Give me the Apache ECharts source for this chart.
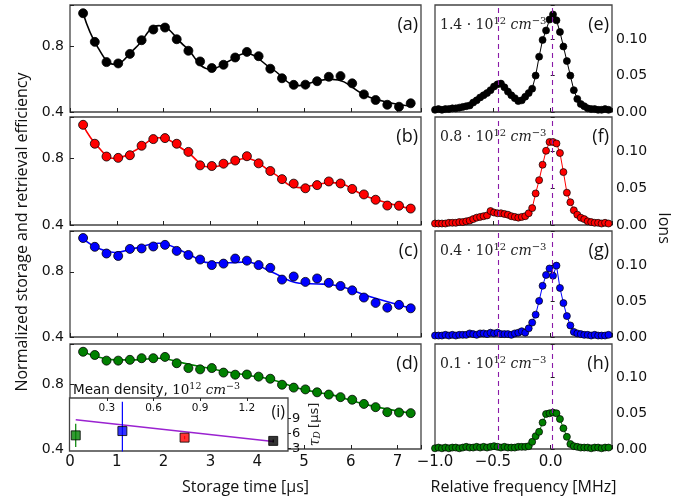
<!DOCTYPE html>
<html>
<head>
<meta charset="utf-8">
<script src="https://cdn.jsdelivr.net/npm/echarts@6/dist/echarts.min.js"></script>
<style>
  html, body { margin: 0; padding: 0; background: #fff; }
  #chart { width: 685px; height: 496px; }
</style>
</head>
<body>
<div id="chart"></div>
<script>
// ---- storage / retrieval efficiency (left panels a-d) ----
const storageTime = [0.28, 0.53, 0.78, 1.03, 1.28, 1.53, 1.78, 2.03, 2.28, 2.53, 2.78, 3.03, 3.28, 3.53, 3.78,
    4.03, 4.28, 4.53, 4.78, 5.03, 5.28, 5.53, 5.78, 6.03, 6.28, 6.53, 6.78, 7.03, 7.28];
const effA = [1.0, 0.826, 0.703, 0.695, 0.753, 0.836, 0.901, 0.913, 0.842, 0.772, 0.707, 0.667, 0.687, 0.731, 0.765,
    0.739, 0.663, 0.605, 0.565, 0.566, 0.587, 0.614, 0.618, 0.574, 0.507, 0.473, 0.444, 0.432, 0.453];
const effB = [1.003, 0.889, 0.812, 0.804, 0.820, 0.877, 0.917, 0.923, 0.889, 0.840, 0.759, 0.755, 0.769, 0.788, 0.814,
    0.771, 0.725, 0.676, 0.649, 0.621, 0.640, 0.662, 0.650, 0.617, 0.584, 0.552, 0.517, 0.516, 0.499];
const effC = [1.007, 0.953, 0.912, 0.897, 0.940, 0.943, 0.955, 0.965, 0.928, 0.903, 0.875, 0.841, 0.850, 0.881, 0.868,
    0.841, 0.824, 0.752, 0.771, 0.738, 0.759, 0.732, 0.713, 0.686, 0.642, 0.609, 0.580, 0.597, 0.576];
const effD = [1.002, 0.982, 0.947, 0.947, 0.952, 0.962, 0.962, 0.970, 0.931, 0.901, 0.893, 0.901, 0.873, 0.860, 0.861,
    0.848, 0.835, 0.798, 0.780, 0.769, 0.751, 0.737, 0.721, 0.705, 0.679, 0.659, 0.628, 0.626, 0.622];

// fitted curves
const fitTime = [0.28, 0.6, 0.95, 1.4, 1.9, 2.45, 3.0, 3.4, 3.75, 4.3, 4.9, 5.3, 5.6, 6.4, 7.28];
const fitA = [1.0, 0.79, 0.69, 0.79, 0.925, 0.80, 0.66, 0.71, 0.755, 0.665, 0.56, 0.59, 0.598, 0.49, 0.435];
const fitB = [1.0, 0.87, 0.80, 0.85, 0.925, 0.85, 0.748, 0.77, 0.80, 0.72, 0.625, 0.645, 0.655, 0.565, 0.497];
const fitC = [1.0, 0.945, 0.918, 0.945, 0.975, 0.92, 0.855, 0.855, 0.86, 0.80, 0.73, 0.725, 0.72, 0.648, 0.576];
const fitD = [1.0, 0.97, 0.952, 0.952, 0.962, 0.93, 0.898, 0.875, 0.858, 0.83, 0.775, 0.75, 0.735, 0.67, 0.622];

// ---- ion spectra (right panels e-h) ----
const freq = [-1.00, -0.97, -0.94, -0.91, -0.88, -0.85, -0.82, -0.79, -0.76, -0.73, -0.70, -0.67, -0.64, -0.61, -0.58,
    -0.55, -0.52, -0.49, -0.46, -0.43, -0.40, -0.37, -0.34, -0.31, -0.28, -0.25, -0.22, -0.19, -0.16, -0.13, -0.10,
    -0.07, -0.04, -0.01, 0.02, 0.05, 0.08, 0.11, 0.14, 0.17, 0.20, 0.23, 0.26, 0.29, 0.32, 0.35, 0.38, 0.41, 0.44,
    0.47, 0.50];
const ionsE = [0.003, 0.004, 0.003, 0.004, 0.004, 0.005, 0.005, 0.006, 0.007, 0.008, 0.009, 0.013, 0.016, 0.020, 0.023,
    0.026, 0.030, 0.035, 0.038, 0.039, 0.034, 0.028, 0.023, 0.019, 0.015, 0.016, 0.021, 0.026, 0.032, 0.050, 0.076,
    0.099, 0.112, 0.127, 0.134, 0.126, 0.110, 0.090, 0.070, 0.050, 0.030, 0.018, 0.011, 0.008, 0.005, 0.004, 0.004,
    0.003, 0.003, 0.004, 0.003];
const ionsF = [0.002, 0.002, 0.002, 0.002, 0.003, 0.003, 0.003, 0.004, 0.004, 0.005, 0.006, 0.008, 0.010, 0.011, 0.012,
    0.013, 0.019, 0.017, 0.016, 0.016, 0.015, 0.014, 0.012, 0.011, 0.010, 0.011, 0.012, 0.016, 0.023, 0.043, 0.061,
    0.082, 0.101, 0.113, 0.113, 0.111, 0.098, 0.072, 0.044, 0.031, 0.020, 0.014, 0.010, 0.008, 0.005, 0.004, 0.003,
    0.003, 0.002, 0.003, 0.002];
const ionsG = [0.002, 0.002, 0.002, 0.003, 0.002, 0.003, 0.002, 0.003, 0.003, 0.003, 0.005, 0.004, 0.003, 0.005, 0.005,
    0.004, 0.006, 0.005, 0.006, 0.004, 0.004, 0.004, 0.003, 0.005, 0.006, 0.008, 0.006, 0.012, 0.020, 0.031, 0.050,
    0.071, 0.086, 0.095, 0.085, 0.099, 0.068, 0.047, 0.029, 0.016, 0.007, 0.005, 0.004, 0.003, 0.003, 0.002, 0.003,
    0.002, 0.002, 0.002, 0.003];
const ionsH = [0.001, 0.002, 0.001, 0.002, 0.001, 0.002, 0.002, 0.001, 0.002, 0.003, 0.002, 0.002, 0.003, 0.002, 0.003,
    0.002, 0.003, 0.004, 0.003, 0.002, 0.003, 0.002, 0.002, 0.002, 0.003, 0.003, 0.003, 0.004, 0.010, 0.018, 0.024,
    0.037, 0.049, 0.050, 0.051, 0.050, 0.042, 0.029, 0.017, 0.007, 0.004, 0.003, 0.002, 0.002, 0.002, 0.001, 0.002,
    0.002, 0.001, 0.002, 0.002];
const peakLines = [-0.45, 0.015];   // dashed markers, MHz

// ---- inset (i): decay time vs mean density ----
const density = [0.1, 0.4, 0.8, 1.37];
const tauD = [5.6, 6.45, 5.15, 4.5];
const tauErr = [2.3, 5.8, 0.3, 0.3];
const fitDensity = [0.1, 1.37];
const fitTau = [8.7, 4.4];
const densityTicks = [0.3, 0.6, 0.9, 1.2];
const tauTicks = [3, 6, 9];

// ---- labels ----
const leftLabels = ['(a)', '(b)', '(c)', '(d)'];
const rightLabels = ['(e)', '(f)', '(g)', '(h)'];
const densityLabels = ['1.4', '0.8', '0.4', '0.1'];
const colors = ['#000000', '#ff0000', '#0000ff', '#008000'];

// layout
const panelTop = [5, 117, 231, 344];
const panelHeight = [107, 108, 106, 107];
const LEFT_X = 70, LEFT_W = 351;
const RIGHT_X = 435, RIGHT_W = 177;
const TICK_FONT = 'DejaVu Sans';
const TEXT_FONT = 'Open Sans';
const FRAME = '#444';

const effData = [effA, effB, effC, effD];
const fitData = [fitA, fitB, fitC, fitD];
const ionData = [ionsE, ionsF, ionsG, ionsH];

const grids = [], xAxes = [], yAxes = [], series = [], graphics = [];

function pairs(xs, ys) {
    return xs.map((x, k) => [x, ys[k]]);
}

function tickStyle(inside, length) {
    return { show: true, inside: inside, length: length, lineStyle: { color: '#222', width: 1 } };
}

function labelStyle(size) {
    return { color: '#111', fontSize: size, fontFamily: TICK_FONT };
}

// left column
for (let i = 0; i < 4; i++) {
    grids.push({
        left: LEFT_X, top: panelTop[i], width: LEFT_W, height: panelHeight[i],
        show: true, borderColor: FRAME, borderWidth: 1.3, backgroundColor: 'transparent'
    });
    xAxes.push({
        type: 'value', gridIndex: i, min: 0, max: 7.5, interval: 1,
        axisLine: { show: false }, splitLine: { show: false },
        axisTick: tickStyle(true, 4),
        axisLabel: Object.assign(labelStyle(15), {
            show: i === 3, margin: 6,
            formatter: v => Number.isInteger(v) ? String(v) : ''
        }),
        name: i === 3 ? 'Storage time [µs]' : '',
        nameLocation: 'middle', nameGap: 30,
        nameTextStyle: { fontSize: 16, fontFamily: TEXT_FONT, color: '#111' }
    });
    yAxes.push({
        type: 'value', gridIndex: i, min: 0.4, max: 1.05, interval: 0.4,
        axisLine: { show: false }, splitLine: { show: false },
        axisTick: tickStyle(true, 4),
        axisLabel: Object.assign(labelStyle(14), {
            margin: 6,
            formatter: v => v < 0.81 ? v.toFixed(1) : ''
        })
    });
    series.push({
        type: 'line', xAxisIndex: i, yAxisIndex: i, data: pairs(fitTime, fitData[i]),
        smooth: 0.45, showSymbol: false, lineStyle: { color: colors[i], width: 1.6 }, z: 2
    });
    series.push({
        type: 'scatter', xAxisIndex: i, yAxisIndex: i, data: pairs(storageTime, effData[i]),
        symbolSize: 9, itemStyle: { color: colors[i], borderColor: '#000', borderWidth: 0.8, opacity: 1 }, z: 3
    });
    graphics.push({
        type: 'text', x: LEFT_X + LEFT_W - 3, y: panelTop[i] + 20, z: 50,
        style: { text: leftLabels[i], fontSize: 18, fontFamily: TEXT_FONT, fill: '#111',
                 textAlign: 'right', textVerticalAlign: 'middle' }
    });
}

// right column
for (let i = 0; i < 4; i++) {
    const g = 4 + i;
    grids.push({
        left: RIGHT_X, top: panelTop[i], width: RIGHT_W, height: panelHeight[i],
        show: true, borderColor: FRAME, borderWidth: 1.3, backgroundColor: 'transparent'
    });
    xAxes.push({
        type: 'value', gridIndex: g, min: -1.0, max: 0.53, interval: 0.5,
        axisLine: { show: false }, splitLine: { show: false },
        axisTick: tickStyle(true, 4),
        axisLabel: Object.assign(labelStyle(15), {
            show: i === 3, margin: 6,
            formatter: v => v < 0.001 ? (v < 0 ? '\u2212' : '') + Math.abs(v).toFixed(1) : ''
        }),
        name: i === 3 ? 'Relative frequency [MHz]' : '',
        nameLocation: 'middle', nameGap: 30,
        nameTextStyle: { fontSize: 16, fontFamily: TEXT_FONT, color: '#111' }
    });
    yAxes.push({
        type: 'value', gridIndex: g, position: 'right', min: 0, max: 0.147, interval: 0.05,
        axisLine: { show: false }, splitLine: { show: false },
        axisTick: tickStyle(false, 4),
        axisLabel: Object.assign(labelStyle(14), {
            margin: 4,
            formatter: v => v < 0.101 ? v.toFixed(2) : ''
        })
    });
    series.push({
        type: 'line', xAxisIndex: g, yAxisIndex: g, data: pairs(freq, ionData[i]),
        symbol: 'circle', symbolSize: 7, showSymbol: true, showAllSymbol: true,
        lineStyle: { color: colors[i], width: 1 },
        itemStyle: { color: colors[i], borderColor: '#000', borderWidth: 0.7 },
        markLine: {
            silent: true, symbol: ['none', 'none'], label: { show: false }, animation: false,
            lineStyle: { type: [5, 4], color: '#8a1aa8', width: 1.1 },
            data: peakLines.map(v => ({ xAxis: v }))
        },
        z: 3
    });
    graphics.push({
        type: 'text', x: RIGHT_X + RIGHT_W - 3, y: panelTop[i] + 20, z: 50,
        style: { text: rightLabels[i], fontSize: 18, fontFamily: TEXT_FONT, fill: '#111',
                 textAlign: 'right', textVerticalAlign: 'middle' }
    });
    graphics.push({
        type: 'text', x: RIGHT_X + 5, y: panelTop[i] + 20, z: 50,
        style: {
            text: '{n|' + densityLabels[i] + ' · 10}{s|12}{n| }{i|cm}{s|\u22123}',
            textVerticalAlign: 'middle', textAlign: 'left',
            rich: {
                n: { fontFamily: 'DejaVu Serif', fontSize: 14, fill: '#222', lineHeight: 18 },
                i: { fontFamily: 'DejaVu Serif', fontStyle: 'italic', fontSize: 14, fill: '#222', lineHeight: 18 },
                s: { fontFamily: 'DejaVu Serif', fontSize: 10, fill: '#222', verticalAlign: 'top', lineHeight: 12 }
            }
        }
    });
}

// inset (i), drawn over panel (d)
grids.push({
    left: 69.5, top: 398, width: 218.5, height: 53, z: 10,
    show: true, borderColor: FRAME, borderWidth: 1.3, backgroundColor: '#fff'
});
xAxes.push({
    type: 'value', gridIndex: 8, position: 'top', min: 0.06, max: 1.465, z: 11,
    axisLine: { show: false }, splitLine: { show: false },
    axisTick: Object.assign(tickStyle(true, 3), { customValues: densityTicks }),
    axisLabel: Object.assign(labelStyle(10.5), {
        inside: true, margin: 5, customValues: densityTicks, formatter: v => v.toFixed(1)
    })
});
yAxes.push({
    type: 'value', gridIndex: 8, position: 'right', min: 2.5, max: 13, z: 11,
    axisLine: { show: false }, splitLine: { show: false },
    axisTick: Object.assign(tickStyle(false, 3), { customValues: tauTicks }),
    axisLabel: Object.assign(labelStyle(13), { margin: 4, customValues: tauTicks }),
    name: '{t|τ}{d|D} {u|[µs]}', nameLocation: 'middle', nameGap: 20, nameRotate: 90,
    nameTextStyle: {
        rich: {
            t: { fontFamily: 'DejaVu Serif', fontStyle: 'italic', fontSize: 14, color: '#222' },
            d: { fontFamily: 'DejaVu Serif', fontStyle: 'italic', fontSize: 9, color: '#222', verticalAlign: 'bottom' },
            u: { fontFamily: TICK_FONT, fontSize: 13, color: '#222' }
        }
    }
});
series.push({
    type: 'line', xAxisIndex: 8, yAxisIndex: 8, data: pairs(fitDensity, fitTau),
    showSymbol: false, lineStyle: { color: '#9a22d0', width: 1.5 }, z: 12
});
density.forEach((d, k) => {
    series.push({
        type: 'line', xAxisIndex: 8, yAxisIndex: 8,
        data: [[d, tauD[k] - tauErr[k]], [d, tauD[k] + tauErr[k]]],
        showSymbol: false, lineStyle: { color: colors[[3, 2, 1, 0][k]], width: 1.2 }, z: 12
    });
});
series.push({
    type: 'scatter', xAxisIndex: 8, yAxisIndex: 8, symbol: 'rect', symbolSize: 9, z: 13,
    itemStyle: { borderColor: '#000', borderWidth: 1 },
    data: density.map((d, k) => ({ value: [d, tauD[k]], itemStyle: { color: colors[[3, 2, 1, 0][k]] } }))
});

// free text
graphics.push({
    type: 'text', x: 73, y: 390, z: 50,
    style: {
        text: '{a|Mean density, }{n|10}{s|12}{n| }{i|cm}{s|\u22123}',
        textVerticalAlign: 'middle',
        rich: {
            a: { fontFamily: TICK_FONT, fontSize: 13.5, fill: '#111', lineHeight: 17 },
            n: { fontFamily: 'DejaVu Serif', fontSize: 13.5, fill: '#111', lineHeight: 17 },
            i: { fontFamily: 'DejaVu Serif', fontStyle: 'italic', fontSize: 13.5, fill: '#111', lineHeight: 17 },
            s: { fontFamily: 'DejaVu Serif', fontSize: 9.5, fill: '#111', verticalAlign: 'top', lineHeight: 11 }
        }
    }
});
graphics.push({
    type: 'text', x: 285, y: 412, z: 50,
    style: { text: '(i)', fontSize: 16, fontFamily: TEXT_FONT, fill: '#111', textAlign: 'right', textVerticalAlign: 'middle' }
});
graphics.push({
    type: 'text', x: 22, y: 232, rotation: Math.PI / 2, z: 50,
    style: { text: 'Normalized storage and retrieval efficiency', fontSize: 16, fontFamily: TEXT_FONT,
             fill: '#111', textAlign: 'center', textVerticalAlign: 'middle' }
});
graphics.push({
    type: 'text', x: 664, y: 228, rotation: -Math.PI / 2, z: 50,
    style: { text: 'Ions', fontSize: 16, fontFamily: TEXT_FONT, fill: '#111',
             textAlign: 'center', textVerticalAlign: 'middle' }
});

const chart = echarts.init(document.getElementById('chart'), null, { renderer: 'canvas' });
chart.setOption({
    animation: false,
    backgroundColor: '#fff',
    grid: grids,
    xAxis: xAxes,
    yAxis: yAxes,
    series: series,
    graphic: { elements: graphics }
});
</script>
</body>
</html>
